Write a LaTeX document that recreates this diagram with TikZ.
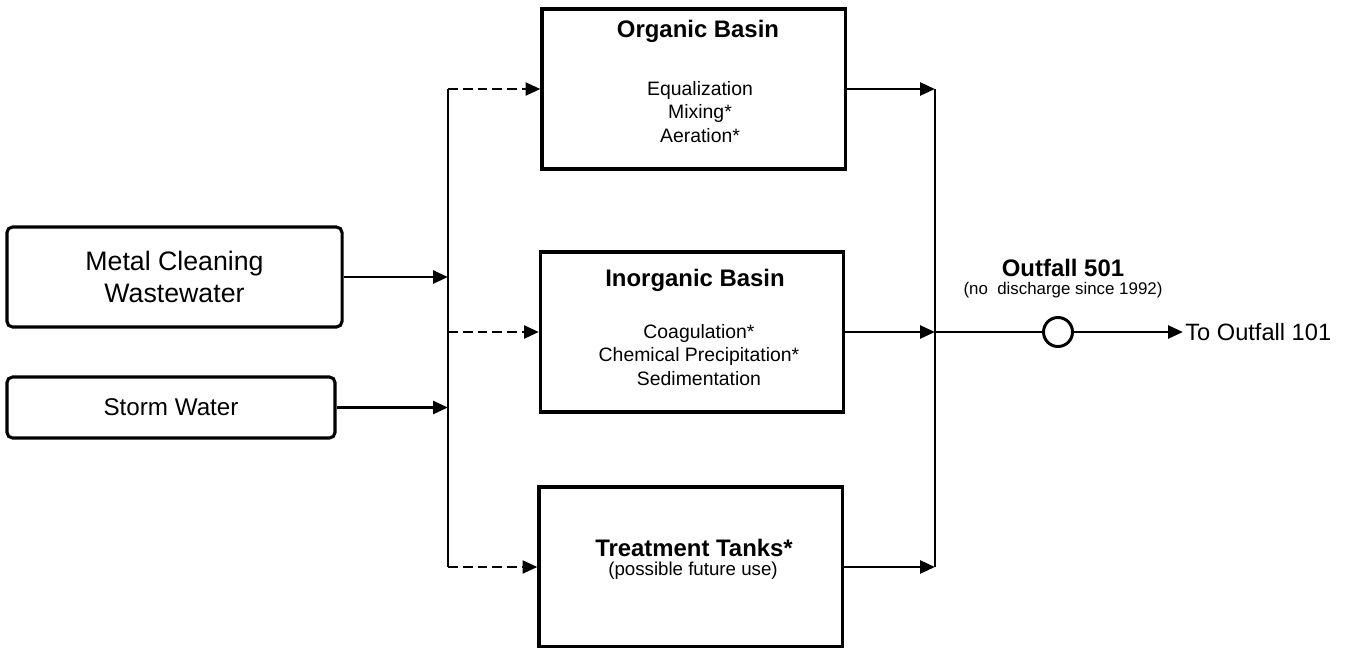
\documentclass[tikz,border=0pt]{standalone}
\usepackage{fontspec}
\setmainfont{Liberation Sans}
\usetikzlibrary{arrows.meta,positioning}

\begin{document}
\begin{tikzpicture}[
        x=0.025cm, y=-0.025cm,
        inflow/.style={draw,rounded corners=4pt,line width=2.2pt,align=center,inner sep=0pt},
        basin/.style={draw,line width=2.2pt,minimum width=7.575cm,minimum height=4cm,inner sep=0pt},
        basintitle/.style={font=\fontsize{17}{20}\selectfont\bfseries,inner sep=0pt},
        tasks/.style={align=center,font=\fontsize{13.8}{16.7}\selectfont,inner sep=0pt},
        pipe/.style={line width=2.1pt},
        flow/.style={pipe,-{Triangle[length=10.5pt,width=9pt]}},
        maybe/.style={flow,dash pattern=on 7pt off 3.5pt}
    ]

    \useasboundingbox (0,0) rectangle (1355,647);

    \node[inflow,minimum width=8.375cm,minimum height=2.5cm,
        font=\fontsize{19}{23}\selectfont] (metal) at (174.5,277) {Metal Cleaning\\Wastewater};
    \node[inflow,minimum width=8.2cm,minimum height=1.525cm,
        font=\fontsize{17.2}{20}\selectfont] (storm) at (171,407.5) {Storm Water};

    \node[basin] (organic) at (693.5,89) {};
    \node[basintitle] (orgname) at (698,31) {Organic Basin};
    \node[tasks] (orgtasks) at (700,112) {Equalization\\Mixing*\\Aeration*};

    \node[basin] (inorganic) at (692,332) {};
    \node[basintitle] (inorgname) at (695,280) {Inorganic Basin};
    \node[tasks] (inorgtasks) at (699,355) {Coagulation*\\Chemical Precipitation*\\Sedimentation};

    \node[basin] (tanks) at (690.5,567) {};
    \node[basintitle] (tankname) at (694,548) {Treatment Tanks*};
    \node[tasks,font=\fontsize{13.3}{16}\selectfont] (tankuse) at (693,571) {(possible future use)};

    \coordinate (lbus) at (448,0);
    \coordinate (rbus) at (935,0);

    % collecting line on the left
    \draw[flow] (metal) -- (metal -| lbus);
    \draw[flow] (storm) -- (storm -| lbus);
    \draw[pipe] (organic.west -| lbus) -- (tanks.west -| lbus);
    \draw[maybe] (organic.west -| lbus) -- (organic.west);
    \draw[maybe] (inorganic.west -| lbus) -- (inorganic.west);
    \draw[maybe] (tanks.west -| lbus) -- (tanks.west);

    % collecting line on the right
    \draw[pipe] (organic.east -| rbus) -- (tanks.east -| rbus);
    \draw[flow] (organic.east) -- (organic.east -| rbus);
    \draw[flow] (inorganic.east) -- (inorganic.east -| rbus);
    \draw[flow] (tanks.east) -- (tanks.east -| rbus);

    \node[circle,draw,line width=2.1pt,fill=white,minimum size=0.725cm,inner sep=0pt] (outfall) at (1058,332) {};
    \node[basintitle] (outname) at (1063,268) {Outfall 501};
    \node[font=\fontsize{12}{14}\selectfont,inner sep=0pt] (outnote) at (1063,290) {(no\ \ discharge since 1992)};
    \node[anchor=west,inner sep=1.5pt,font=\fontsize{16.8}{20}\selectfont] (dest) at (1183,332) {To Outfall 101};

    \draw[pipe] (inorganic.east -| rbus) -- (outfall);
    \draw[flow] (outfall) -- (dest);

\end{tikzpicture}
\end{document}
